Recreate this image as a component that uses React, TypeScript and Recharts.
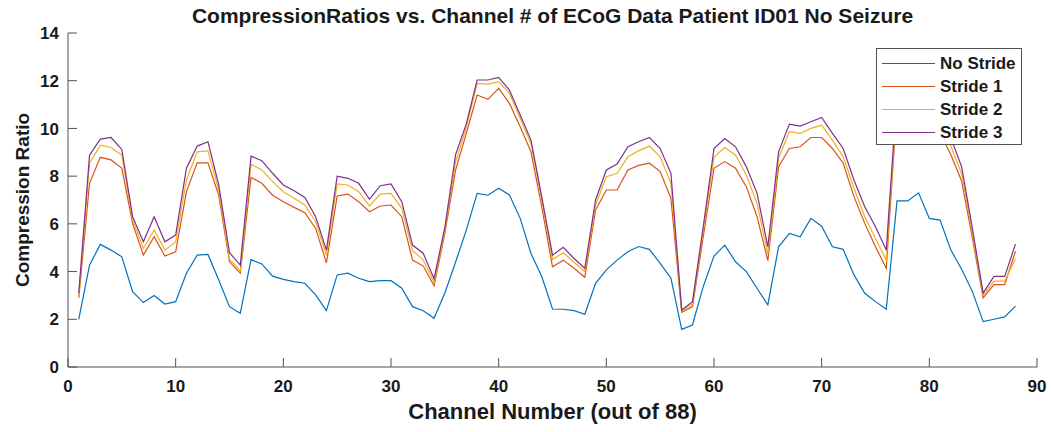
import { LineChart, Line, XAxis, YAxis, Legend } from "recharts";

// channel index 1..88
const channels = Array.from({ length: 88 }, (_, i) => i + 1);

const noStride = [
  2.0, 4.27, 5.14, 4.9, 4.62, 3.16, 2.7, 3.0, 2.64, 2.74,
  3.93, 4.69, 4.72, 3.65, 2.53, 2.25, 4.5, 4.32, 3.81, 3.67,
  3.58, 3.51, 3.02, 2.36, 3.86, 3.93, 3.72, 3.58, 3.62, 3.62,
  3.3, 2.53, 2.36, 2.04, 3.1, 4.4, 5.75, 7.28, 7.2, 7.49,
  7.21, 6.23, 4.76, 3.79, 2.43, 2.42, 2.36, 2.21, 3.51, 4.07,
  4.48, 4.83, 5.05, 4.93, 4.34, 3.72, 1.58, 1.76, 3.37, 4.65,
  5.11, 4.41, 4.0, 3.3, 2.6, 5.04, 5.6, 5.46, 6.23, 5.9,
  5.04, 4.93, 3.86, 3.09, 2.74, 2.42, 6.96, 6.96, 7.3, 6.23,
  6.16, 4.9, 4.1, 3.16, 1.9, 2.0, 2.1, 2.55,
];

const stride1 = [
  2.9, 7.7, 8.79, 8.68, 8.33, 6.02, 4.69, 5.46, 4.65, 4.83,
  7.35, 8.56, 8.56, 7.2, 4.41, 3.93, 7.95, 7.7, 7.2, 6.93,
  6.69, 6.47, 5.81, 4.37, 7.17, 7.25, 6.93, 6.51, 6.75, 6.79,
  6.3, 4.48, 4.23, 3.4, 5.6, 8.25, 9.8, 11.4, 11.22, 11.68,
  11.05, 10.07, 9.02, 6.72, 4.2, 4.48, 4.14, 3.76, 6.58, 7.42,
  7.42, 8.26, 8.45, 8.54, 8.19, 7.07, 2.29, 2.53, 5.46, 8.33,
  8.61, 8.33, 7.56, 6.3, 4.46, 8.4, 9.16, 9.23, 9.62, 9.62,
  9.16, 8.54, 7.14, 6.02, 5.04, 4.14, 11.0, 11.2, 11.5, 10.8,
  9.8, 8.9, 7.8, 5.4, 2.9, 3.45, 3.45, 4.85,
];

const stride2 = [
  3.0, 8.54, 9.3, 9.2, 8.88, 6.16, 4.97, 5.74, 4.9, 5.25,
  7.84, 9.02, 9.06, 7.42, 4.51, 4.04, 8.5, 8.26, 7.77, 7.35,
  7.07, 6.79, 6.09, 4.69, 7.67, 7.63, 7.35, 6.75, 7.25, 7.28,
  6.65, 4.88, 4.48, 3.55, 5.7, 8.6, 10.05, 11.89, 11.86, 11.96,
  11.47, 10.42, 9.37, 7.0, 4.51, 4.79, 4.39, 4.0, 6.79, 7.98,
  8.12, 8.81, 9.06, 9.26, 8.81, 7.7, 2.35, 2.64, 5.74, 8.79,
  9.2, 8.88, 8.05, 6.86, 4.74, 8.75, 9.86, 9.79, 10.0, 10.14,
  9.51, 8.81, 7.49, 6.3, 5.39, 4.48, 11.2, 11.5, 11.8, 11.1,
  10.1, 9.25, 8.1, 5.6, 3.0, 3.6, 3.6, 4.55,
];

const stride3 = [
  3.1, 8.88, 9.55, 9.62, 9.12, 6.3, 5.25, 6.3, 5.25, 5.53,
  8.33, 9.26, 9.44, 7.63, 4.79, 4.27, 8.84, 8.65, 8.12, 7.63,
  7.39, 7.11, 6.3, 4.9, 8.0, 7.91, 7.7, 7.03, 7.6, 7.67,
  6.93, 5.11, 4.76, 3.7, 5.85, 8.9, 10.2, 12.03, 12.03, 12.14,
  11.61, 10.56, 9.51, 7.14, 4.69, 5.02, 4.55, 4.14, 7.0, 8.26,
  8.51, 9.23, 9.44, 9.62, 9.16, 8.12, 2.39, 2.74, 5.88, 9.16,
  9.58, 9.23, 8.4, 7.28, 5.04, 9.02, 10.18, 10.1, 10.28, 10.46,
  9.79, 9.16, 7.84, 6.72, 5.88, 4.9, 11.5, 11.8, 12.1, 11.4,
  10.4, 9.6, 8.4, 5.8, 3.1, 3.8, 3.8, 5.15,
];

const xTicks = [0, 10, 20, 30, 40, 50, 60, 70, 80, 90];
const yTicks = [0, 2, 4, 6, 8, 10, 12, 14];

const series = [
  { key: "noStride", name: "No Stride", color: "#0072BD", values: noStride },
  { key: "stride1", name: "Stride 1", color: "#D95319", values: stride1 },
  { key: "stride2", name: "Stride 2", color: "#EDB120", values: stride2 },
  { key: "stride3", name: "Stride 3", color: "#7E2F8E", values: stride3 },
];

const data = channels.map((ch, i) => {
  const row: Record<string, number> = { ch };
  series.forEach((s) => {
    row[s.key] = s.values[i];
  });
  return row;
});

const FONT = "'Liberation Sans', Arial, Helvetica, sans-serif";
const AXIS = "#505050";
const INK = "#1a1a1a";
const TICK = 9;

const tickText = {
  fontFamily: FONT,
  fontWeight: 700,
  fontSize: 17,
  fill: INK,
};

const axisTitle = {
  fontFamily: FONT,
  fontWeight: 700,
  fill: INK,
};

function BottomTick({ x, y, payload }: any) {
  return (
    <g>
      <line x1={x} x2={x} y1={y} y2={y - TICK} stroke={AXIS} />
      <text x={x} y={y + 25} textAnchor="middle" style={tickText}>
        {payload.value}
      </text>
    </g>
  );
}

function TopTick({ x, y }: any) {
  return <line x1={x} x2={x} y1={y} y2={y + TICK} stroke={AXIS} />;
}

function LeftTick({ x, y, payload }: any) {
  return (
    <g>
      <line x1={x} x2={x + TICK} y1={y} y2={y} stroke={AXIS} />
      <text x={x - 9} y={y} dy="0.36em" textAnchor="end" style={tickText}>
        {payload.value}
      </text>
    </g>
  );
}

function RightTick({ x, y }: any) {
  return <line x1={x} x2={x - TICK} y1={y} y2={y} stroke={AXIS} />;
}

function LegendBox({ payload }: any) {
  return (
    <div
      style={{
        boxSizing: "border-box",
        width: 146,
        height: 97,
        border: `1px solid ${AXIS}`,
        background: "#fff",
        paddingTop: 3,
        fontFamily: FONT,
        fontWeight: 700,
        fontSize: 17,
        color: INK,
      }}
    >
      {(payload || []).map((entry: any) => (
        <div
          key={entry.value}
          style={{ display: "flex", alignItems: "center", height: 23 }}
        >
          <svg width={58} height={23} style={{ marginLeft: 5 }}>
            <line x1={0} x2={53} y1={11.5} y2={11.5} stroke={entry.color} strokeWidth={1.2} />
          </svg>
          <span>{entry.value}</span>
        </div>
      ))}
    </div>
  );
}

export default function App() {
  return (
    <div
      style={{
        position: "absolute",
        left: 0,
        top: 0,
        width: 1052,
        height: 432,
        background: "#fff",
      }}
    >
      <div
        style={{
          position: "absolute",
          left: 68,
          top: 4,
          width: 969,
          textAlign: "center",
          fontFamily: FONT,
          fontWeight: 700,
          fontSize: 21,
          lineHeight: "24px",
          color: INK,
          zIndex: 1,
        }}
      >
        CompressionRatios vs. Channel # of ECoG Data Patient ID01 No Seizure
      </div>
      <LineChart
        width={1052}
        height={432}
        data={data}
        margin={{ top: 33, right: 15, bottom: 0, left: 0 }}
      >
        <XAxis
          dataKey="ch"
          type="number"
          domain={[0, 90]}
          ticks={xTicks}
          interval={0}
          height={65}
          tickSize={0}
          tickMargin={0}
          tickLine={false}
          axisLine={{ stroke: AXIS }}
          tick={<BottomTick />}
          label={{
            content: ({ viewBox }: any) => (
              <text
                x={viewBox.x + viewBox.width / 2}
                y={viewBox.y + 52}
                textAnchor="middle"
                style={{ ...axisTitle, fontSize: 22 }}
              >
                Channel Number (out of 88)
              </text>
            ),
          }}
        />
        <XAxis
          xAxisId="top"
          orientation="top"
          type="number"
          domain={[0, 90]}
          ticks={xTicks}
          interval={0}
          height={0}
          tickSize={0}
          tickMargin={0}
          tickLine={false}
          axisLine={{ stroke: AXIS }}
          tick={<TopTick />}
        />
        <YAxis
          type="number"
          domain={[0, 14]}
          ticks={yTicks}
          interval={0}
          width={68}
          tickSize={0}
          tickMargin={0}
          tickLine={false}
          axisLine={{ stroke: AXIS }}
          tick={<LeftTick />}
          label={{
            content: ({ viewBox }: any) => {
              const cx = 29;
              const cy = viewBox.y + viewBox.height / 2;
              return (
                <text
                  x={cx}
                  y={cy}
                  textAnchor="middle"
                  transform={`rotate(-90 ${cx} ${cy})`}
                  style={{ ...axisTitle, fontSize: 19 }}
                >
                  Compression Ratio
                </text>
              );
            },
          }}
        />
        <YAxis
          yAxisId="right"
          orientation="right"
          type="number"
          domain={[0, 14]}
          ticks={yTicks}
          interval={0}
          width={0}
          tickSize={0}
          tickMargin={0}
          tickLine={false}
          axisLine={{ stroke: AXIS }}
          tick={<RightTick />}
        />
        {series.map((s) => (
          <Line
            key={s.key}
            dataKey={s.key}
            name={s.name}
            type="linear"
            stroke={s.color}
            strokeWidth={1.2}
            dot={false}
            activeDot={false}
            isAnimationActive={false}
          />
        ))}
        <Legend
          layout="vertical"
          align="center"
          verticalAlign="middle"
          content={<LegendBox />}
          wrapperStyle={{ left: 876, top: 48, width: 146, height: 97 }}
        />
      </LineChart>
    </div>
  );
}
